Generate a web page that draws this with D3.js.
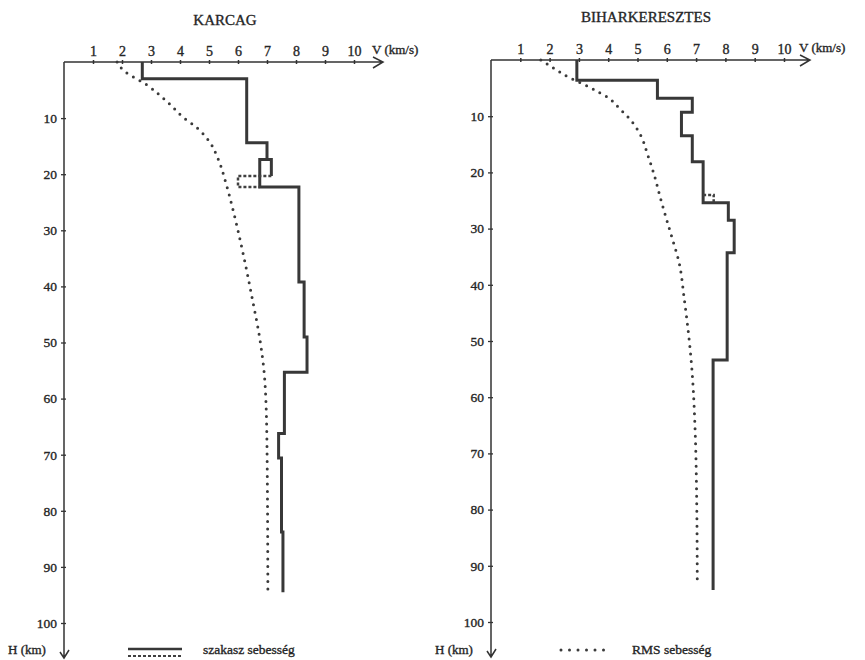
<!DOCTYPE html>
<html>
<head>
<meta charset="utf-8">
<script src="https://cdn.jsdelivr.net/npm/d3@7"></script>
<style>
body { margin: 0; background: #fff; }
svg { display: block; }
text { font-family: "Liberation Serif", "DejaVu Serif", serif; fill: #262626; stroke: #262626; stroke-width: 0.35px; }
</style>
</head>
<body>
<svg id="chart" width="865" height="660"></svg>
<script>
// ---- data ----
var velTicks = [1, 2, 3, 4, 5, 6, 7, 8, 9, 10];
var depthTicks = [10, 20, 30, 40, 50, 60, 70, 80, 90, 100];
var titles = ["KARCAG", "BIHARKERESZTES"];

// interval velocity (szakasz sebesség), layer tops/bottoms in km, velocity in km/s
var karcagStepDepth = [0, 3.0, 14.4, 17.4, 22.3, 39.2, 49, 55.3, 66.2, 70.6, 83.8, 94.5];
var karcagStepVel   = [2.7, 6.3, 7.0, 6.75, 8.1, 8.28, 8.38, 7.6, 7.4, 7.5, 7.55];
// the little loop around 17-22 km
var karcagAltVel    = [7.0, 7.15, 7.15];
var karcagAltDepth  = [17.4, 17.4, 20.3];
var karcagDashVel   = [7.15, 6.0, 6.0, 6.75];
var karcagDashDepth = [20.3, 20.3, 22.3, 22.3];

var biharStepDepth = [0, 3.6, 6.8, 9.3, 13.5, 18.1, 25.4, 28.5, 34.3, 53.4, 94.3];
var biharStepVel   = [2.93, 5.68, 6.87, 6.5, 6.87, 7.24, 8.1, 8.3, 8.06, 7.58];
var biharDashVel   = [7.24, 7.6, 7.6];
var biharDashDepth = [24.0, 24.0, 25.4];

// RMS velocity
var karcagRmsVel   = [1.83, 2.03, 2.86, 3.6, 4.1, 4.6, 5.03, 5.3, 5.6, 5.83, 6.17, 6.5, 6.76, 6.93, 7.0, 7.03];
var karcagRmsDepth = [0, 1.4, 4.1, 7.3, 9.8, 11.8, 14.3, 17.1, 21.9, 26.4, 34, 42.4, 49.6, 57.2, 68.6, 94.1];
var biharRmsVel    = [1.7, 2.0, 2.3, 2.7, 3.2, 3.6, 4.0, 4.4, 4.8, 5.1, 5.35, 5.55, 5.8, 6.0, 6.2, 6.4, 6.6, 6.85, 6.97, 7.02, 7.04];
var biharRmsDepth  = [0, 1.0, 2.0, 3.2, 4.4, 5.5, 6.7, 8.7, 10.9, 13.3, 16.9, 20.1, 24.9, 28.5, 32, 35.6, 42.7, 54.6, 66.4, 78.3, 92.5];

var legendLabels = ["szakasz sebesség", "RMS sebesség"];

// ---- layout ----
var svg = d3.select("#chart");
var ink = "#333";

var panels = [
    {title: titles[0], titleX: 225, titleY: 25, xr: [64, 354], yr: [62, 623], arrowEnd: 383, bottom: 658,
     step: [karcagStepDepth, karcagStepVel], alt: [karcagAltVel, karcagAltDepth],
     dash: [karcagDashVel, karcagDashDepth], rms: [karcagRmsVel, karcagRmsDepth]},
    {title: titles[1], titleX: 646, titleY: 22, xr: [491, 784], yr: [60, 622], arrowEnd: 810, bottom: 657,
     step: [biharStepDepth, biharStepVel], alt: null,
     dash: [biharDashVel, biharDashDepth], rms: [biharRmsVel, biharRmsDepth]}
];

function stepPoints(depth, vel) {
    var pts = [];
    for (var i = 0; i < vel.length; i++) {
        pts.push([vel[i], depth[i]]);
        pts.push([vel[i], depth[i + 1]]);
    }
    return pts;
}

function zip(a, b) {
    return a.map(function(v, i) { return [v, b[i]]; });
}

panels.forEach(function(p) {
    var x = d3.scaleLinear().domain([0, 10]).range(p.xr);
    var y = d3.scaleLinear().domain([0, 100]).range(p.yr);
    var g = svg.append("g");

    var line = d3.line()
        .x(function(d) { return x(d[0]); })
        .y(function(d) { return y(d[1]); });

    // title
    g.append("text")
        .attr("x", p.titleX)
        .attr("y", p.titleY)
        .attr("text-anchor", "middle")
        .style("font-size", "15px")
        .text(p.title);

    // top axis (velocity)
    var xAxis = d3.axisTop(x)
        .tickValues(velTicks)
        .tickSize(3)
        .tickPadding(3)
        .tickFormat(d3.format("d"));

    var gx = g.append("g")
        .attr("transform", "translate(0," + p.yr[0] + ")")
        .call(xAxis);
    gx.select(".domain").remove();
    gx.selectAll(".tick line").attr("stroke", ink).attr("y2", 2).attr("y1", -2).attr("stroke-width", 1.5);
    gx.selectAll(".tick text").style("font-size", "14px").attr("fill", "#262626");

    // left axis (depth)
    var yAxis = d3.axisLeft(y)
        .tickValues(depthTicks)
        .tickSize(3)
        .tickPadding(4)
        .tickFormat(d3.format("d"));

    var gy = g.append("g")
        .attr("transform", "translate(" + p.xr[0] + ",0)")
        .call(yAxis);
    gy.select(".domain").remove();
    gy.selectAll(".tick line").attr("stroke", ink).attr("x1", 2).attr("stroke-width", 1.3);
    gy.selectAll(".tick text").style("font-size", "13.5px").attr("fill", "#262626");

    // axis lines with open arrow heads
    g.append("path")
        .attr("d", "M" + p.xr[0] + "," + p.yr[0] + "H" + p.arrowEnd +
                   "M" + (p.arrowEnd - 10) + "," + (p.yr[0] - 5) + "L" + p.arrowEnd + "," + p.yr[0] +
                   "L" + (p.arrowEnd - 10) + "," + (p.yr[0] + 6))
        .attr("fill", "none")
        .attr("stroke", ink)
        .attr("stroke-width", 1.5);

    g.append("path")
        .attr("d", "M" + p.xr[0] + "," + p.yr[0] + "V" + p.bottom +
                   "M" + (p.xr[0] - 4) + "," + (p.bottom - 6) + "L" + p.xr[0] + "," + p.bottom +
                   "L" + (p.xr[0] + 5) + "," + (p.bottom - 8))
        .attr("fill", "none")
        .attr("stroke", ink)
        .attr("stroke-width", 1.5);

    g.append("text")
        .attr("x", p.arrowEnd - 11)
        .attr("y", p.yr[0] - 8)
        .style("font-size", "13px")
        .text("V (km/s)");

    g.append("text")
        .attr("x", p.xr[0] - 56)
        .attr("y", 654)
        .style("font-size", "13px")
        .text("H (km)");

    // RMS velocity (dotted)
    g.append("path")
        .datum(zip(p.rms[0], p.rms[1]))
        .attr("d", line.curve(d3.curveMonotoneY))
        .attr("fill", "none")
        .attr("stroke", "#3a3a3a")
        .attr("stroke-width", 3)
        .attr("stroke-linecap", "round")
        .attr("stroke-dasharray", "0 7.5");
    line.curve(d3.curveLinear);

    // interval velocity (steps)
    g.append("path")
        .datum(stepPoints(p.step[0], p.step[1]))
        .attr("d", line)
        .attr("fill", "none")
        .attr("stroke", "#383838")
        .attr("stroke-width", 3);

    if (p.alt) {
        g.append("path")
            .datum(zip(p.alt[0], p.alt[1]))
            .attr("d", line)
            .attr("fill", "none")
            .attr("stroke", "#383838")
            .attr("stroke-width", 3);
    }

    g.append("path")
        .datum(zip(p.dash[0], p.dash[1]))
        .attr("d", line)
        .attr("fill", "none")
        .attr("stroke", "#404040")
        .attr("stroke-width", 2.5)
        .attr("stroke-dasharray", "3 2");
});

// legend
var lg = svg.append("g");
lg.append("line")
    .attr("x1", 128).attr("x2", 182).attr("y1", 649).attr("y2", 649)
    .attr("stroke", "#383838").attr("stroke-width", 2.5);
lg.append("line")
    .attr("x1", 128).attr("x2", 182).attr("y1", 656).attr("y2", 656)
    .attr("stroke", "#404040").attr("stroke-width", 2).attr("stroke-dasharray", "3 2");
lg.append("text")
    .attr("x", 203).attr("y", 654)
    .style("font-size", "13.5px")
    .text(legendLabels[0]);

lg.append("line")
    .attr("x1", 561).attr("x2", 612).attr("y1", 650).attr("y2", 650)
    .attr("stroke", "#3a3a3a").attr("stroke-width", 3)
    .attr("stroke-linecap", "round").attr("stroke-dasharray", "0 8.5");
lg.append("text")
    .attr("x", 632).attr("y", 654)
    .style("font-size", "13.5px")
    .text(legendLabels[1]);
</script>
</body>
</html>
